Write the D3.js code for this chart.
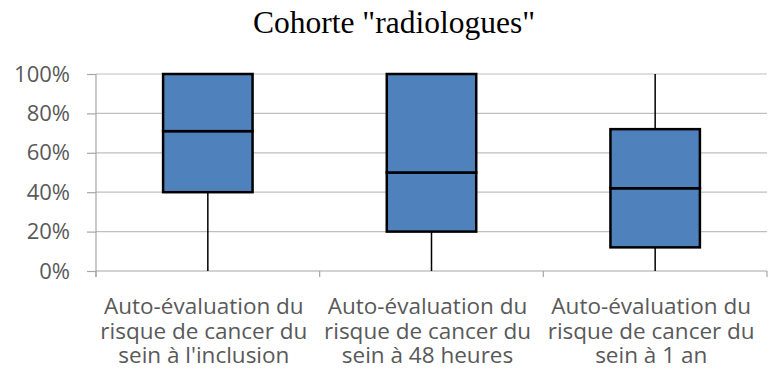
<!DOCTYPE html>
<html>
<head>
<meta charset="utf-8">
<script src="https://cdn.jsdelivr.net/npm/d3@7"></script>
<style>
  html, body { margin: 0; padding: 0; background: #fff; }
  svg { display: block; }
</style>
</head>
<body>
<svg id="chart" width="769" height="387"></svg>
<script>
// Box-plot summaries (fractions of 1)
const categories = [
  ["Auto-évaluation du", "risque de cancer du", "sein à l'inclusion"],
  ["Auto-évaluation du", "risque de cancer du", "sein à 48 heures"],
  ["Auto-évaluation du", "risque de cancer du", "sein à 1 an"]
];
const minValues    = [0.00, 0.00, 0.00];
const q1Values     = [0.40, 0.20, 0.12];
const medianValues = [0.71, 0.50, 0.42];
const q3Values     = [1.00, 1.00, 0.72];
const maxValues    = [1.00, 1.00, 1.00];
const yTicks = [0, 0.2, 0.4, 0.6, 0.8, 1.0];
const title = "Cohorte \"radiologues\"";

const svg = d3.select("#chart");
const margin = { left: 96, right: 2, top: 74, bottom: 116 };
const W = 769, H = 387;
const plotW = W - margin.left - margin.right;
const plotH = H - margin.top - margin.bottom;
const sans = "'Open Sans', Lato, sans-serif";

const x = d3.scaleBand().domain(d3.range(categories.length)).range([0, plotW]).paddingInner(0).paddingOuter(0);
const y = d3.scaleLinear().domain([0, 1]).range([plotH, 0]);

const g = svg.append("g").attr("transform", `translate(${margin.left},${margin.top})`);

// Title
svg.append("text")
  .attr("x", 394).attr("y", 33)
  .attr("text-anchor", "middle")
  .attr("font-family", "'Liberation Serif', 'Times New Roman', serif")
  .attr("font-size", 31.5)
  .attr("fill", "#000")
  .text(title);

// Horizontal gridlines
g.selectAll(".grid").data(yTicks.filter(t => t > 0)).enter().append("line")
  .attr("x1", 0).attr("x2", plotW)
  .attr("y1", d => y(d)).attr("y2", d => y(d))
  .attr("stroke", "#bfbfbf").attr("stroke-width", 1.2);

// Y axis
const yAxis = d3.axisLeft(y).tickValues(yTicks).tickFormat(d3.format(".0%")).tickSize(9).tickPadding(17);
const ya = g.append("g").call(yAxis);
ya.select(".domain").attr("stroke", "#a6a6a6").attr("stroke-width", 1.2).attr("d", `M0,0V${plotH + 6}`);
ya.selectAll(".tick line").attr("stroke", "#a6a6a6").attr("stroke-width", 1.2);
ya.selectAll(".tick text")
  .attr("font-family", sans)
  .attr("font-size", 22).attr("fill", "#595959");

// X axis baseline with boundary ticks
const boundaries = d3.range(categories.length + 1).map(i => i * x.bandwidth());
g.append("line")
  .attr("x1", 0).attr("x2", plotW)
  .attr("y1", plotH).attr("y2", plotH)
  .attr("stroke", "#a6a6a6").attr("stroke-width", 1.2);
g.selectAll(".xtick").data(boundaries).enter().append("line")
  .attr("x1", d => d).attr("x2", d => d)
  .attr("y1", plotH).attr("y2", plotH + 6)
  .attr("stroke", "#a6a6a6").attr("stroke-width", 1.2);

// Category labels (three lines each, centred under each band)
const labels = g.selectAll(".cat").data(categories).enter().append("text")
  .attr("text-anchor", "middle")
  .attr("font-family", sans)
  .attr("font-size", 22.5).attr("fill", "#595959")
  .attr("transform", (d, i) => `translate(${x(i) + x.bandwidth() / 2 - 4},${plotH + 43})`);
labels.selectAll("tspan").data(d => d).enter().append("tspan")
  .attr("x", 0).attr("dy", (d, j) => j === 0 ? 0 : 24.5)
  .text(d => d);

// Boxes
const boxW = x.bandwidth() * 0.4;
const boxes = g.selectAll(".box").data(categories.map((c, i) => i)).enter().append("g")
  .attr("transform", i => `translate(${x(i) + x.bandwidth() / 2},0)`);

// Whiskers
boxes.append("line")
  .attr("x1", 0).attr("x2", 0)
  .attr("y1", i => y(maxValues[i])).attr("y2", i => y(q3Values[i]))
  .attr("stroke", "#000").attr("stroke-width", 1.5);
boxes.append("line")
  .attr("x1", 0).attr("x2", 0)
  .attr("y1", i => y(q1Values[i])).attr("y2", i => y(minValues[i]))
  .attr("stroke", "#000").attr("stroke-width", 1.5);

// Lower box (Q1 to median) and upper box (median to Q3)
boxes.append("rect")
  .attr("x", -boxW / 2).attr("width", boxW)
  .attr("y", i => y(medianValues[i]))
  .attr("height", i => y(q1Values[i]) - y(medianValues[i]))
  .attr("fill", "#4f81bd").attr("stroke", "#000").attr("stroke-width", 2.5);
boxes.append("rect")
  .attr("x", -boxW / 2).attr("width", boxW)
  .attr("y", i => y(q3Values[i]))
  .attr("height", i => y(medianValues[i]) - y(q3Values[i]))
  .attr("fill", "#4f81bd").attr("stroke", "#000").attr("stroke-width", 2.5);
</script>
</body>
</html>
